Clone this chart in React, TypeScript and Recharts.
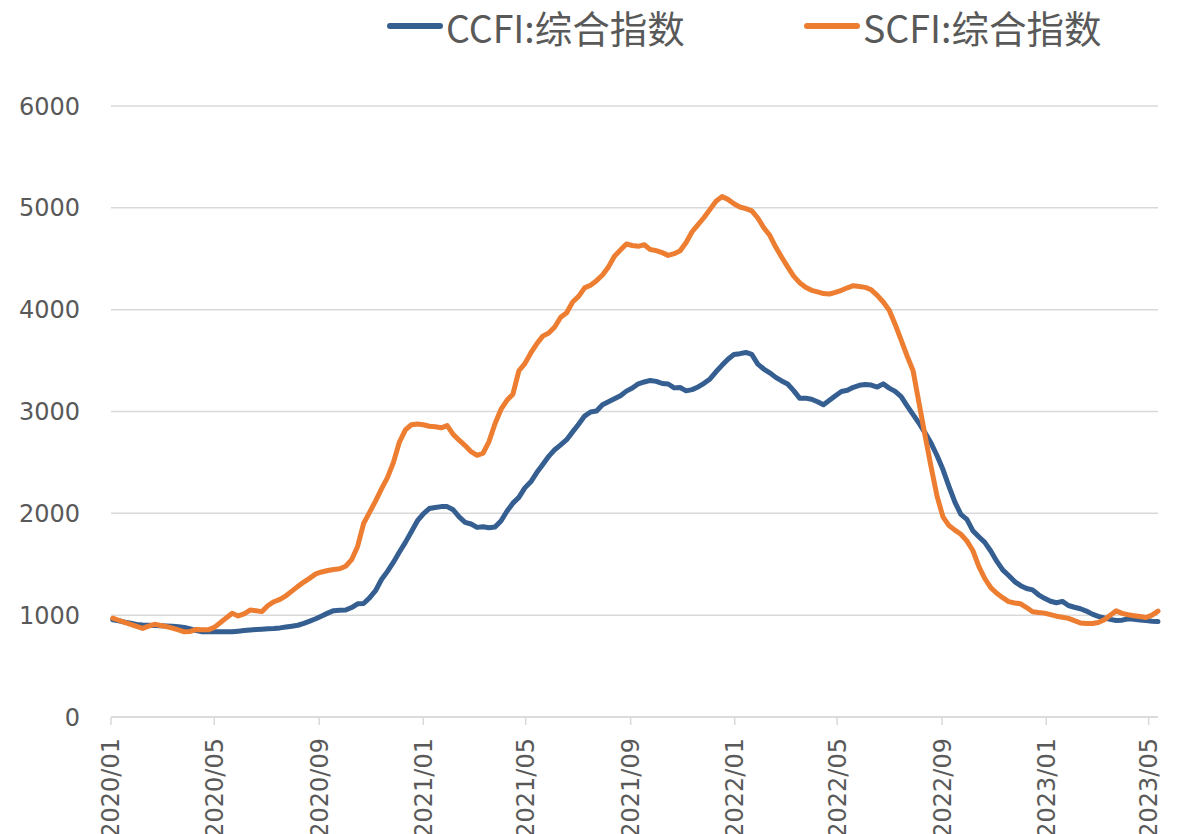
import { LineChart, Line, XAxis, YAxis, CartesianGrid } from "recharts";

// x-axis labels, one every four months
const monthLabels = [
  "2020/01", "2020/05", "2020/09", "2021/01", "2021/05", "2021/09",
  "2022/01", "2022/05", "2022/09", "2023/01", "2023/05",
];

const yTicks = [0, 1000, 2000, 3000, 4000, 5000, 6000];

// weekly readings, first week = 2020-01-03
const ccfi = [
  955, 945, 932, 920, 908, 903, 900, 898, 896, 894,
  891, 887, 880, 865, 848, 838, 838, 838, 838, 838,
  838, 843, 849, 855, 859, 862, 866, 869, 875, 883,
  892, 901, 920, 942, 965, 992, 1020, 1044, 1049, 1050,
  1075, 1112, 1115, 1170, 1240, 1350, 1430, 1520, 1620, 1715,
  1820, 1925, 1995, 2047, 2058, 2066, 2066, 2035, 1965, 1912,
  1895, 1862, 1868, 1858, 1865, 1925, 2020, 2100, 2157, 2250,
  2310, 2400, 2480, 2560, 2625, 2672, 2723, 2800, 2875, 2955,
  2995, 3005, 3066, 3095, 3125, 3155, 3200, 3230, 3272, 3290,
  3305, 3296, 3275, 3270, 3232, 3235, 3203, 3215, 3241, 3277,
  3320, 3390, 3453, 3513, 3560, 3568, 3580, 3560, 3465, 3417,
  3380, 3335, 3300, 3270, 3205, 3131, 3131, 3120, 3096, 3066,
  3110, 3155, 3197, 3208, 3238, 3257, 3266, 3260, 3240, 3271,
  3230, 3197, 3145, 3055, 2970, 2885, 2790, 2690, 2568, 2430,
  2265, 2110, 1990, 1940, 1830, 1770, 1715, 1630, 1530, 1445,
  1390, 1330, 1290, 1262, 1248, 1200, 1165, 1137, 1122, 1135,
  1095, 1078, 1063, 1040, 1010, 988, 972, 959, 948, 951,
  965, 960, 953, 947, 941, 937,
];

const scfi = [
  970, 950, 930, 910, 890, 870, 893, 910, 899, 888,
  873, 855, 836, 840, 860, 858, 856, 880, 925, 973,
  1018, 992, 1012, 1050, 1043, 1035, 1095, 1132, 1155, 1190,
  1236, 1283, 1325, 1364, 1405, 1424, 1439, 1449, 1456, 1480,
  1545, 1675, 1900, 2010, 2120, 2240, 2350, 2500, 2700, 2820,
  2870, 2877, 2870, 2855, 2850, 2840, 2862, 2775, 2718, 2665,
  2605, 2570, 2590, 2705, 2880, 3020, 3110, 3170, 3400, 3470,
  3575, 3665, 3740, 3770, 3830, 3925, 3970, 4075, 4130, 4214,
  4240, 4285, 4340, 4420, 4525, 4585, 4645, 4630, 4622, 4638,
  4590, 4580, 4560, 4533, 4550, 4578, 4660, 4765, 4835, 4905,
  4985, 5065, 5110, 5083, 5040, 5008, 4992, 4970, 4900, 4805,
  4730, 4615, 4515, 4420, 4330, 4265, 4220, 4190, 4175, 4158,
  4154, 4170, 4190, 4215, 4235, 4227, 4219, 4195, 4140, 4075,
  3995, 3855, 3700, 3545, 3400, 3080, 2765, 2460, 2170, 1965,
  1880, 1835, 1795, 1730, 1635, 1480, 1360, 1270, 1215, 1172,
  1133, 1120, 1112, 1075, 1034, 1026, 1020, 1005, 990, 980,
  968, 946, 924, 918, 918, 928, 955, 1000, 1042, 1018,
  1004, 995, 986, 977, 1000, 1040,
];

const DAY = 86400000;
const ORIGIN = Date.UTC(2020, 0, 1);
const FIRST_WEEK = (Date.UTC(2020, 0, 3) - ORIGIN) / DAY;

const labelToDay = (label: string) => {
  const [y, m] = label.split("/").map(Number);
  return (Date.UTC(y, m - 1, 1) - ORIGIN) / DAY;
};

const tickDays = monthLabels.map(labelToDay);
const dayToLabel: Record<number, string> = {};
monthLabels.forEach((l, i) => (dayToLabel[tickDays[i]] = l));

const data = ccfi.map((v, i) => ({
  day: FIRST_WEEK + i * 7,
  ccfi: v,
  scfi: scfi[i],
}));

const BLUE = "#355E91";
const ORANGE = "#ED7D31";
const TEXT = "#595959";
const GRID = "#D9D9D9";
const FONT = "DejaVu Sans, Verdana, sans-serif";

const MonthTick = ({ x, y, payload }: any) => (
  <text
    transform={`translate(${x},${y}) rotate(-90)`}
    textAnchor="end"
    dy="0.35em"
    fill={TEXT}
    fontSize={24}
    fontFamily={FONT}
  >
    {dayToLabel[payload.value]}
  </text>
);

const legendItems = [
  { name: "CCFI:综合指数", color: BLUE, left: 387 },
  { name: "SCFI:综合指数", color: ORANGE, left: 804 },
];

export default function App() {
  return (
    <div style={{ position: "absolute", left: 0, top: 0, width: 1179, height: 834, background: "#fff" }}>
      {legendItems.map((item) => (
        <div
          key={item.name}
          style={{
            position: "absolute",
            left: item.left,
            top: 4,
            height: 44,
            display: "flex",
            alignItems: "center",
            fontFamily: "Noto Sans CJK SC, sans-serif",
            fontSize: 37.5,
            color: TEXT,
            whiteSpace: "nowrap",
          }}
        >
          <span
            style={{
              display: "inline-block",
              width: 56,
              height: 6,
              borderRadius: 3,
              background: item.color,
              marginRight: 3,
            }}
          />
          {item.name}
        </div>
      ))}
      <LineChart
        width={1179}
        height={834}
        data={data}
        margin={{ top: 106, right: 21, bottom: 0, left: 0 }}
      >
        <CartesianGrid horizontal vertical={false} stroke={GRID} strokeWidth={1.5} />
        <XAxis
          type="number"
          dataKey="day"
          domain={[0, "dataMax"]}
          ticks={tickDays}
          interval={0}
          tick={<MonthTick />}
          tickSize={8}
          tickMargin={13}
          tickLine={{ stroke: GRID, strokeWidth: 1.5 }}
          axisLine={{ stroke: GRID, strokeWidth: 1.5 }}
          height={117}
        />
        <YAxis
          domain={[0, 6000]}
          ticks={yTicks}
          interval={0}
          axisLine={false}
          tickLine={false}
          tickSize={0}
          tickMargin={31}
          width={111}
          tick={{ fill: TEXT, fontSize: 24, fontFamily: FONT }}
        />
        <Line
          type="linear"
          dataKey="ccfi"
          stroke={BLUE}
          strokeWidth={5}
          dot={false}
          strokeLinecap="round"
          strokeLinejoin="round"
          isAnimationActive={false}
        />
        <Line
          type="linear"
          dataKey="scfi"
          stroke={ORANGE}
          strokeWidth={5}
          dot={false}
          strokeLinecap="round"
          strokeLinejoin="round"
          isAnimationActive={false}
        />
      </LineChart>
    </div>
  );
}
